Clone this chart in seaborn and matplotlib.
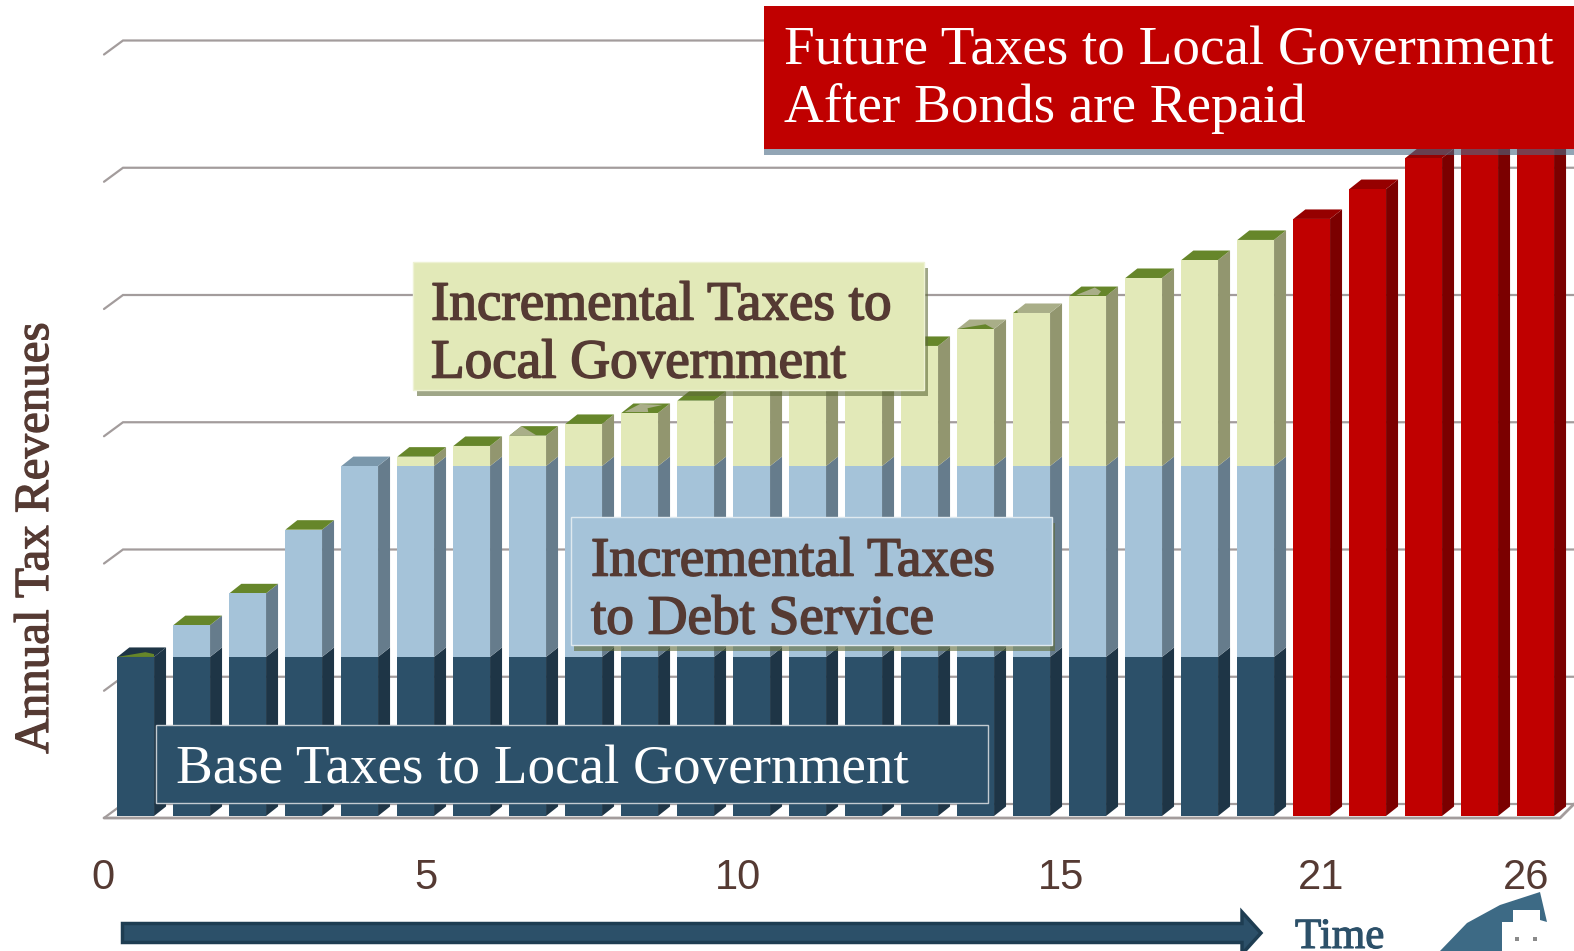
import matplotlib
matplotlib.use("Agg")
import matplotlib.pyplot as plt
import matplotlib.patheffects as pe
from matplotlib.patches import Polygon, Rectangle
from matplotlib.transforms import Affine2D
import numpy as np
import pandas as pd
import seaborn as sns

W, H = 1574, 951

years = list(range(26))
base_taxes = [1.25] * 21 + [0] * 5
debt_service = [0, .25, .50, 1.00, 1.50, 1.50, 1.50, 1.50, 1.50, 1.50, 1.50, 1.50, 1.50,
                1.50, 1.50, 1.50, 1.50, 1.50, 1.50, 1.50, 1.50, 0, 0, 0, 0, 0]
local_incremental = [0, 0, 0, 0, 0, .074, .158, .239, .331, .417, .514, .621, .723,
                     .834, .944, 1.077, 1.203, 1.336, 1.478, 1.619, 1.777, 0, 0, 0, 0, 0]
future_taxes = [0] * 21 + [4.692, 4.927, 5.171, 5.422, 5.666]
tick_labels = ["0", "5", "10", "15", "21", "26"]
tick_pixels = [103, 425.5, 738, 1061, 1321, 1526]
grid_levels = [0, 1, 2, 3, 4, 5, 6]

NAVY, BLUE, CREAM, RED = "#2c5069", "#a5c3d9", "#e2e9b8", "#c00000"
NAVY_SIDE, BLUE_SIDE, CREAM_SIDE, RED_SIDE = "#1e3546", "#667c8c", "#92966f", "#7b0000"
GREEN_TOP, NAVY_TOP, BLUE_TOP, RED_TOP = "#66862a", "#1e3546", "#7a97ab", "#960000"
OLIVE_TOP = "#a9ae88"
BROWN = "#553a33"
GRID = "#a39c9c"
SERIF = "Liberation Serif"

# worn top faces: bar index -> (face colour, patch colour, patch outline in face coordinates)
worn_tops = {
    0: (NAVY_TOP, GREEN_TOP, [(0, 0), (.6, .5), (.9, .3), (1, 0)]),
    7: (GREEN_TOP, OLIVE_TOP, [(0, 0), (0, 1), (.75, 0)]),
    9: (GREEN_TOP, OLIVE_TOP, [(.05, .1), (.2, .95), (.85, .85), (.55, .5), (.7, .1)]),
    15: (OLIVE_TOP, GREEN_TOP, [(0, 0), (.6, .5), (1, 0)]),
    16: (OLIVE_TOP, GREEN_TOP, [(0, 0), (.12, 0), (0, .3)]),
    17: (GREEN_TOP, OLIVE_TOP, [(.15, .1), (.4, .9), (.7, .5), (.75, .1)]),
}

PX_Y = 127.25   # pixels per value unit
PX_X = 56.0     # pixels per bar slot
DEPTH_X = 12 / PX_X
DEPTH_Y = 9.5 / PX_Y
BAR_W = 36.7 / PX_X

sns.set_theme(style="white")
fig = plt.figure(figsize=(W / 100, H / 100), dpi=100, facecolor="white")
AX_BOTTOM = 818
ax = fig.add_axes([0, (H - AX_BOTTOM) / H, 1, AX_BOTTOM / H])
sns.despine(ax=ax, left=True, bottom=True, right=True, top=True)
XLIM = (-135.7 / PX_X, (W - 135.7) / PX_X)
YLIM = (-2 / PX_Y, 816 / PX_Y)

pixel = Affine2D().scale(1, -1).translate(0, H)

# back wall and floor
wall_dx, wall_dy = 19 / PX_X, 14 / PX_Y
x0 = (104 - 135.7) / PX_X
for g in grid_levels:
    y_back = g + 12 / PX_Y
    ax.plot([x0, x0 + wall_dx, XLIM[1]], [y_back - wall_dy, y_back, y_back],
            color=GRID, lw=1.6, zorder=1, clip_on=False, solid_joinstyle="miter")
floor_y = -2 / PX_Y
ax.plot([x0, (1560 - 135.7) / PX_X, XLIM[1]], [floor_y, floor_y, floor_y + wall_dy],
        color=GRID, lw=2.0, zorder=1, clip_on=False)

# front faces, tallest cumulative layer first so each lower layer overlays it
base_arr = np.array(base_taxes)
debt_arr = np.array(debt_service)
local_arr = np.array(local_incremental)
future_arr = np.array(future_taxes)
layers = [
    (base_arr + debt_arr + local_arr, CREAM),
    (base_arr + debt_arr, BLUE),
    (base_arr, NAVY),
    (future_arr, RED),
]
order = [str(y) for y in years]
for totals, colour in layers:
    frame = pd.DataFrame({"year": order, "value": totals})
    sns.barplot(data=frame, x="year", y="value", order=order, color=colour,
                saturation=1, width=BAR_W, ax=ax, zorder=4, linewidth=0)


def side_face(i, low, high, colour):
    right = i + BAR_W / 2
    ax.add_patch(Polygon([(right, low), (right + DEPTH_X, low + DEPTH_Y),
                          (right + DEPTH_X, high + DEPTH_Y), (right, high)],
                         closed=True, fc=colour, ec="none", zorder=3))


def face_point(i, level, u, v):
    return (i - BAR_W / 2 + u * BAR_W + v * DEPTH_X, level + v * DEPTH_Y)


def top_face(i, level, colour):
    corners = [(0, 0), (1, 0), (1, 1), (0, 1)]
    ax.add_patch(Polygon([face_point(i, level, u, v) for u, v in corners],
                         closed=True, fc=colour, ec="none", zorder=3))


for i in years:
    b, d, l, f = base_arr[i], debt_arr[i], local_arr[i], future_arr[i]
    if f > 0:
        side_face(i, 0, f, RED_SIDE)
        top_face(i, f, RED_TOP)
        continue
    side_face(i, 0, b, NAVY_SIDE)
    side_face(i, b, b + d, BLUE_SIDE)
    side_face(i, b + d, b + d + l, CREAM_SIDE)
    level = b + d + l
    if i in worn_tops:
        face, patch, outline = worn_tops[i]
        top_face(i, level, face)
        ax.add_patch(Polygon([face_point(i, level, u, v) for u, v in outline],
                             closed=True, fc=patch, ec="none", zorder=3.5))
    elif l > 0 or 0 < d < 1.5:
        top_face(i, level, GREEN_TOP)
    else:
        top_face(i, level, BLUE_TOP)

ax.set_xlim(*XLIM)
ax.set_ylim(*YLIM)

# tick labels along the time axis
ax.set_xticks([(p - 135.7) / PX_X for p in tick_pixels])
ax.set_xticklabels(tick_labels, fontfamily="Liberation Sans", fontsize=30, color=BROWN)
ax.tick_params(axis="x", length=0, pad=29)
ax.set_yticks([])
ax.set_xlabel("")
ax.set_ylabel("Annual Tax Revenues", fontfamily=SERIF, fontsize=35.3, color=BROWN, va="center",
              path_effects=[pe.withStroke(linewidth=0.9, foreground=BROWN)])
ax.yaxis.set_label_coords(36 / W, (AX_BOTTOM - 538) / AX_BOTTOM)


def callout(x0, y0, x1, y1, fc, ec, lines, colour, tx, ty, shadow=None, stroke=0.0):
    if shadow:
        sx, sy, sc, sa = shadow
        fig.add_artist(Rectangle((x0 + sx, y0 + sy), x1 - x0, y1 - y0, fc=sc, alpha=sa, ec="none",
                                 transform=pixel, zorder=6))
    fig.add_artist(Rectangle((x0, y0), x1 - x0, y1 - y0, fc=fc, ec=ec, lw=1.0,
                             transform=pixel, zorder=7))
    for j, line in enumerate(lines):
        t = fig.text(tx, ty + j * 58, line, transform=pixel, family=SERIF, fontsize=39.7,
                     color=colour, va="baseline", ha="left", zorder=8)
        if stroke:
            t.set_path_effects([pe.withStroke(linewidth=stroke, foreground=colour)])


callout(764, 6, 1580, 149, RED, "none", ["Future Taxes to Local Government", "After Bonds are Repaid"],
        "white", 784, 64, shadow=(0, 6, "#4a6a85", 0.6))
callout(412.5, 262, 924, 389.5, CREAM, "#eef2d4", ["Incremental Taxes to", "Local Government"],
        BROWN, 431, 319.5, shadow=(4, 6, "#5f6b39", 0.6), stroke=1.2)
callout(571, 517, 1052, 645, BLUE, "#dfe9ef", ["Incremental Taxes", "to Debt Service"],
        BROWN, 591, 575.5, shadow=(3, 6, "#5f6b39", 0.6), stroke=1.2)
callout(155.5, 725, 988, 803, NAVY, "#c3cbd1", ["Base Taxes to Local Government"],
        "white", 176, 782.5)

# direction-of-time arrow
fig.add_artist(Polygon([(122.5, 923.5), (1242, 923.5), (1242, 912), (1261, 933), (1242, 954),
                        (1242, 942.5), (122.5, 942.5)], closed=True, fc=NAVY, ec="#1e3d52", lw=2.5,
                       transform=pixel, zorder=6))
fig.text(1295, 948, "Time", transform=pixel, family=SERIF, fontsize=31, color=NAVY,
         va="baseline", ha="left", path_effects=[pe.withStroke(linewidth=0.8, foreground=NAVY)])

# corner emblem
fig.add_artist(Polygon([(1440, 951), (1467, 923), (1500, 905), (1540, 892), (1547, 922), (1540, 920),
                        (1540, 910), (1513, 910), (1513, 922), (1502, 922), (1502, 951)],
                       closed=True, fc="#3d6a85", ec="none", transform=pixel, zorder=6))
for cx in (1515, 1533):
    fig.add_artist(Rectangle((cx, 937), 4, 4, fc="#8a8a8a", ec="none", transform=pixel, zorder=6))

fig.savefig("out.png", dpi=100, facecolor="white")
